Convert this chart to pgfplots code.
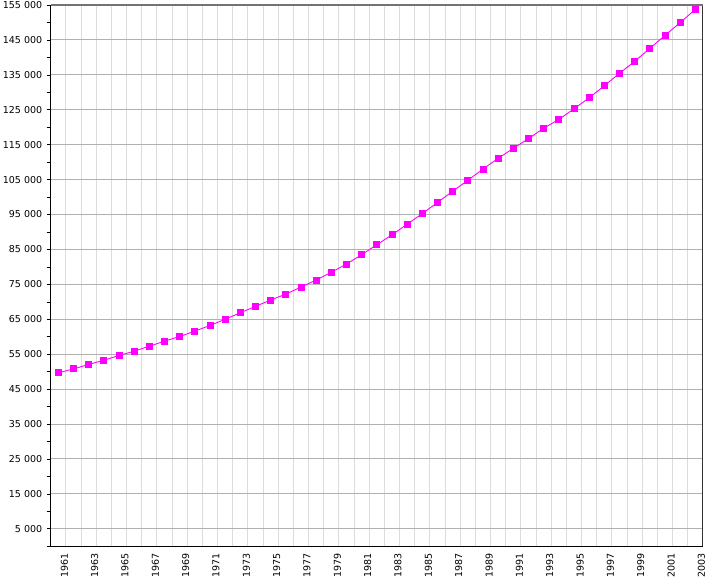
\documentclass[border=0pt]{standalone}
\usepackage{pgfplots}
\pgfplotsset{compat=1.18}
\usepackage{fontspec}
\setmainfont{DejaVu Sans}
\definecolor{mag}{HTML}{FF00FF}
\definecolor{majgrid}{HTML}{B0B0B0}
\definecolor{mingrid}{HTML}{DCDCDC}
\begin{document}
\begin{tikzpicture}
\begin{axis}[
  at={(0,0)}, anchor=south west,
  scale only axis, width=652pt, height=541pt,
  xmin=1960.5, xmax=2003.5, ymin=0, ymax=155000,
  axis line style={draw=none},
  tick align=outside,
  xtick pos=bottom, ytick pos=left,
  xtick={1961,1963,...,2003},
  xticklabels={1961,1963,1965,1967,1969,1971,1973,1975,1977,1979,1981,1983,1985,1987,1989,1991,1993,1995,1997,1999,2001,2003},
  xtick style={draw=none},
  minor xtick={1960.5,1961.5,...,2003.5},
  minor x tick style={black, line width=0.6pt},
  xminorgrids, minor x grid style={mingrid, line width=1pt},
  ytick={5000,15000,...,155000},
  yticklabels={5 000,15 000,25 000,35 000,45 000,55 000,65 000,75 000,85 000,95 000,105 000,115 000,125 000,135 000,145 000,155 000},
  minor ytick={0,10000,...,150000},
  ymajorgrids, major y grid style={majgrid, line width=1pt},
  y tick style={black, line width=0.6pt},
  major tick length=4pt, minor tick length=4pt,
  scaled y ticks=false,
  ticklabel style={font=\fontsize{9.5}{11}\selectfont, text=black},
  x tick label style={rotate=90, anchor=east, yshift=-6pt},
  y tick label style={xshift=-1pt},
  clip=false,
]
\addplot[mag, line width=0.9pt, mark=square*, mark size=3pt, mark options={fill=mag, draw=mag}] coordinates {
(1961,49640) (1962,50790) (1963,52040) (1964,53280) (1965,54620) (1966,55860)
(1967,57290) (1968,58720) (1969,60070) (1970,61590) (1971,63220) (1972,65000)
(1973,66860) (1974,68700) (1975,70500) (1976,72220) (1977,74230) (1978,76230)
(1979,78440) (1980,80820) (1981,83510) (1982,86350) (1983,89200) (1984,92220)
(1985,95290) (1986,98440) (1987,101680) (1988,104800) (1989,108030) (1990,111100)
(1991,113970) (1992,116720) (1993,119730) (1994,122220) (1995,125290) (1996,128440)
(1997,131880) (1998,135460) (1999,138870) (2000,142590) (2001,146320) (2002,149960)
(2003,153760)
};
\draw[black, line width=1pt] (rel axis cs:0,1) -- (rel axis cs:0,0) -- (rel axis cs:1,0);
\draw[black!80, line width=1pt] (rel axis cs:1,0) -- (rel axis cs:1,1);
\draw[black!55, line width=2pt] (rel axis cs:0,1) -- (rel axis cs:1,1);
\end{axis}
\pgfresetboundingbox
\path[use as bounding box] (-50.7pt,-36pt) rectangle (674pt,546pt);
\end{tikzpicture}
\end{document}
